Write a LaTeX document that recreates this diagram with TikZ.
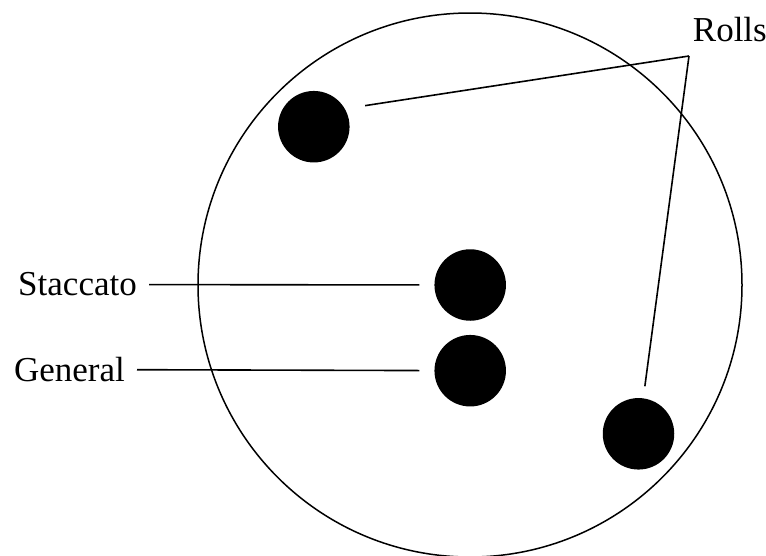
\documentclass[tikz,border=0pt]{standalone}
\usepackage{fontspec}
\setmainfont{Liberation Serif}
\usepackage{tikz}
\usetikzlibrary{positioning, calc}

\begin{document}
\begin{tikzpicture}[x=1pt, y=-1pt,
    dot/.style={circle, fill=black, inner sep=0pt, minimum size=71.5pt},
    lbl/.style={inner sep=0pt, font=\fontsize{35}{42}\selectfont},
    lead/.style={line width=1.6pt}]
    \useasboundingbox (0,0) rectangle (766,555);

    % Cercle principal
    \draw[line width=1.5pt] (470,285) circle (272);

    % Points
    \node[dot] (roll1) at (313.8,126.7) {};
    \node[dot] (stacdot) at (470.2,285) {};
    \node[dot] (gendot) at (470.2,370.7) {};
    \node[dot] (roll2) at (638.5,433.8) {};

    % Etiquettes
    \node[lbl, anchor=east] (stac) at (137,284.5) {Staccato};
    \node[lbl, anchor=east] (gen) at (125,369.5) {General};
    \node[lbl, anchor=base west] (rolls) at (692.7,41.7) {Rolls};
    \coordinate (apex) at (689,56);

    % Traits
    \draw[lead, shorten <=12pt, shorten >=15pt] (stac) -- (stacdot);
    \draw[lead, shorten <=12pt, shorten >=15pt] (gen) -- (gendot);
    \draw[lead, shorten >=20.4pt] (apex) -- (roll1.30);
    \draw[lead, shorten >=12pt] (apex) -- (roll2);
\end{tikzpicture}
\end{document}
